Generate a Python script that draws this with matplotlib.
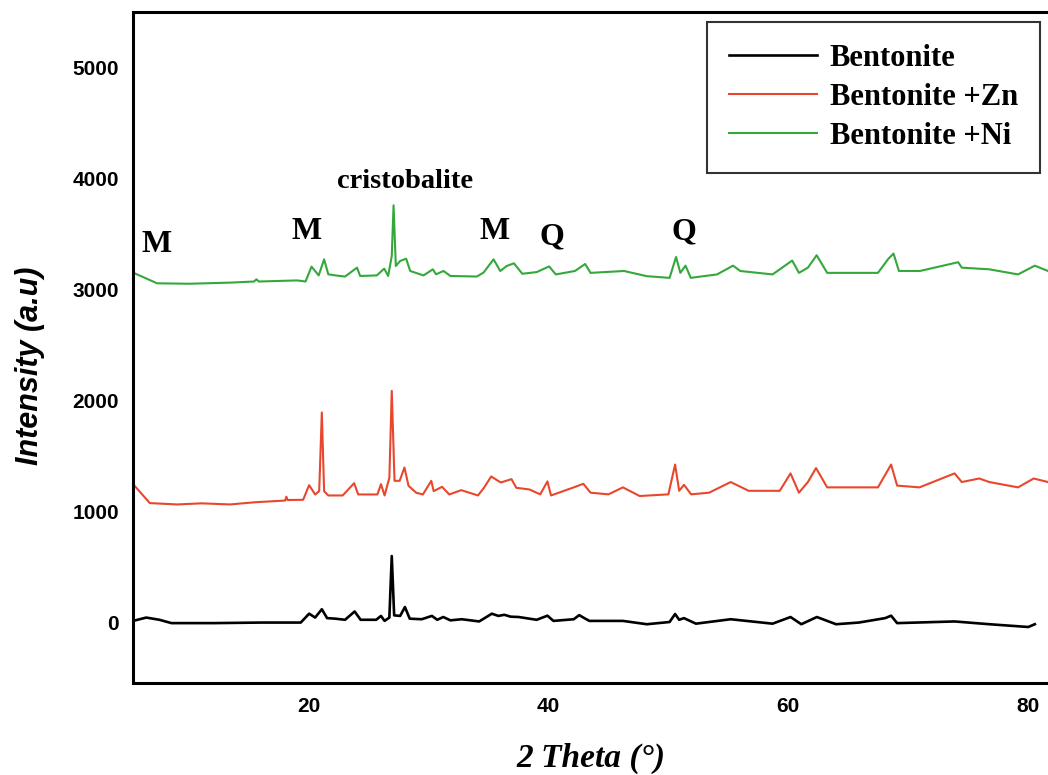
import matplotlib
matplotlib.use("Agg")
import matplotlib.pyplot as plt

# XRD patterns (2theta in degrees, intensity a.u.)
bent_x = [5.3, 6.4, 7.5, 8.5, 12.0, 16.0, 19.3, 20.0, 20.5, 21.06, 21.5, 22.2, 23.0, 23.8, 24.3,
          25.6, 26.0, 26.3, 26.7, 26.9, 27.1, 27.6, 28.0, 28.4, 29.4, 30.25, 30.7, 31.2, 31.8,
          32.75, 34.2, 35.26, 35.8, 36.3, 36.83, 37.5, 39.0, 39.9, 40.4, 42.1, 42.55, 42.9, 43.4,
          46.2, 48.2, 50.1, 50.56, 50.9, 51.3, 52.3, 55.2, 58.7, 60.2, 61.1, 62.4, 64.0, 65.9,
          68.1, 68.6, 69.1, 73.9, 76.8, 80.05, 80.6]
bent_y = [10, 40, 20, -10, -10, -5, -5, 75, 40, 115, 35, 30, 20, 95, 20,
          20, 55, 10, 40, 595, 60, 55, 135, 30, 25, 55, 20, 45, 15,
          25, 5, 75, 55, 65, 48, 45, 20, 57, 10, 25, 62, 40, 10,
          10, -20, 0, 72, 20, 35, -15, 25, -15, 45, -20, 45, -20, -5,
          35, 57, -10, 5, -20, -45, -20]

zn_x = [5.3, 6.7, 9.0, 11.0, 13.4, 15.5, 18.0, 18.1, 18.2, 19.5, 20.0, 20.5, 20.84, 21.06, 21.25,
        21.6, 22.8, 23.76, 24.1, 25.7, 26.0, 26.3, 26.7, 26.9, 27.13, 27.56, 27.96, 28.3, 28.95,
        29.5, 30.2, 30.4, 31.1, 31.7, 32.7, 34.1, 34.6, 35.2, 36.0, 36.9, 37.3, 38.4, 39.3, 39.9,
        40.2, 42.1, 42.9, 43.5, 45.0, 46.2, 47.6, 50.0, 50.56, 50.9, 51.3, 51.9, 53.4, 55.2, 56.7,
        59.3, 60.2, 60.9, 61.65, 62.33, 63.26, 65.2, 67.5, 68.6, 69.1, 70.97, 73.9, 74.5,
        75.96, 76.8, 79.2, 80.5, 81.7]
zn_y = [1243, 1072, 1060, 1070, 1060, 1080, 1095, 1130, 1100, 1102, 1234, 1150, 1180, 1889, 1180,
        1141, 1141, 1252, 1150, 1150, 1243, 1141, 1300, 2084, 1273, 1273, 1393, 1228, 1165,
        1150, 1273, 1180, 1219, 1150, 1189, 1141, 1210, 1312, 1258, 1288, 1210, 1195, 1151, 1268,
        1141, 1214, 1246, 1166, 1151, 1214, 1136, 1151, 1420, 1183, 1237, 1151, 1166, 1262, 1183,
        1183, 1340, 1166, 1262, 1388, 1214, 1214, 1214, 1420, 1230, 1214, 1340, 1262,
        1294, 1262, 1214, 1294, 1262]

ni_x = [5.3, 7.3, 10.0, 13.4, 15.4, 15.6, 15.8, 19.0, 19.7, 20.2, 20.8, 21.25, 21.6, 22.2, 23.0,
        24.0, 24.26, 25.65, 26.27, 26.6, 26.9, 27.05, 27.24, 27.6, 28.1, 28.44, 29.55, 30.33,
        30.6, 31.22, 31.8, 34.0, 34.56, 35.4, 35.96, 36.5, 37.1, 37.8, 39.0, 40.04, 40.6, 42.2,
        43.05, 43.5, 46.3, 48.2, 50.1, 50.64, 51.0, 51.43, 51.87, 54.06, 55.4, 56.0, 58.7,
        60.34, 60.9, 61.65, 62.38, 63.26, 67.5, 68.37, 68.8, 69.25, 71.0, 74.2, 74.5, 76.8,
        79.2, 80.6, 81.7]
ni_y = [3150, 3054, 3050, 3060, 3070, 3090, 3070, 3080, 3070, 3204, 3125, 3270, 3135, 3125, 3115,
        3195, 3120, 3125, 3186, 3120, 3300, 3757, 3210, 3255, 3276, 3165, 3125, 3180,
        3135, 3165, 3120, 3115, 3150, 3270, 3165, 3210, 3234, 3140, 3155, 3206, 3134, 3165,
        3228, 3148, 3165, 3118, 3103, 3291, 3148, 3213, 3103, 3134, 3213, 3165, 3134,
        3259, 3148, 3195, 3307, 3148, 3148, 3275, 3322, 3165, 3165, 3244, 3195, 3180,
        3134, 3213, 3165]

labels = ["M", "M", "cristobalite", "M", "Q", "Q"]
label_x = [7.3, 19.8, 28.0, 35.5, 40.3, 51.3]
label_y = [3405, 3520, 3975, 3520, 3475, 3520]

serif_bold = dict(family="Liberation Serif", weight="bold")

fig = plt.figure(figsize=(10.48, 7.75), dpi=100)
ax = fig.add_axes([0.127, 0.1187, 0.873, 0.8658])

ax.plot(bent_x, bent_y, color="black", lw=1.9, label="Bentonite")
ax.plot(zn_x, zn_y, color="#e8472e", lw=1.5, label="Bentonite +Zn")
ax.plot(ni_x, ni_y, color="#34a83a", lw=1.5, label="Bentonite +Ni")

for txt, lx, ly in zip(labels, label_x, label_y):
    size = 20.5 if txt == "cristobalite" else 23
    ax.text(lx, ly, txt, ha="center", va="center", fontsize=size, **serif_bold)

ax.set_xlim(5.3, 81.7)
ax.set_ylim(-550, 5500)
ax.set_xticks([20, 40, 60, 80])
ax.set_yticks([0, 1000, 2000, 3000, 4000, 5000])
ax.tick_params(direction="in", length=0, labelsize=15, pad=10)
for lab in ax.get_xticklabels() + ax.get_yticklabels():
    lab.set_fontweight("bold")
    lab.set_family("Liberation Sans")

for side in ["left", "bottom", "top"]:
    ax.spines[side].set_linewidth(2.2)
ax.spines["right"].set_visible(False)

ax.set_ylabel("Intensity (a.u)", fontsize=22, fontweight="bold", style="italic",
              family="Liberation Sans")
ax.yaxis.set_label_coords(-0.096, 0.472)
ax.set_xlabel("2 Theta (°)", fontsize=24, style="italic", labelpad=19, **serif_bold)

leg = ax.legend(loc="upper right", bbox_to_anchor=(0.991, 0.985), prop=dict(size=22, **serif_bold),
                frameon=True, fancybox=False, edgecolor="black", handlelength=2.9,
                handletextpad=0.4, borderpad=0.72, labelspacing=0.32, borderaxespad=0.0)
leg.get_frame().set_linewidth(1.5)

fig.savefig("out.png", dpi=100)
